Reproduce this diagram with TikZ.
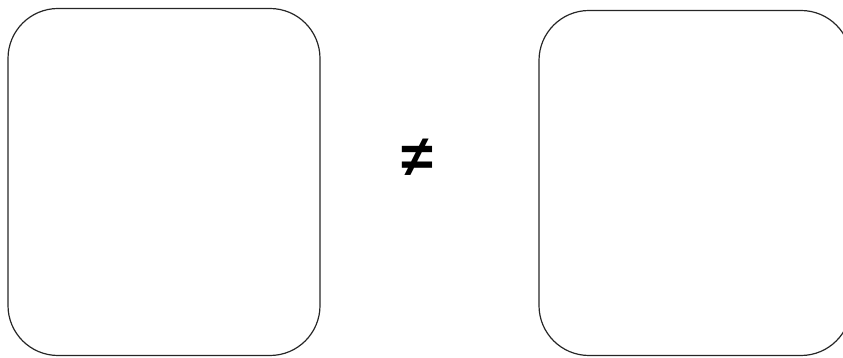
\documentclass[tikz,border=0pt]{standalone}
\usepackage{fontspec}
\setmainfont{Liberation Sans}

\tikzset{
    panel/.style={draw=black!85, line width=1.2pt, rounded corners=50pt, minimum width=312pt, minimum height=347pt, inner sep=0pt},
}

\begin{document}
\begin{tikzpicture}[x=1pt,y=1pt]
    % Rahmen
    \useasboundingbox (0,0) rectangle (843,358);
    \clip (0,0) rectangle (843,358);

    % Felder
    \node[panel] (left) at (164,176) {};
    \node[panel, minimum height=345pt] (right) at (695,175) {};

    % Zeichen
    \node (neq) at (417,200) {\fontsize{58}{66}\selectfont\bfseries ≠};
\end{tikzpicture}
\end{document}
